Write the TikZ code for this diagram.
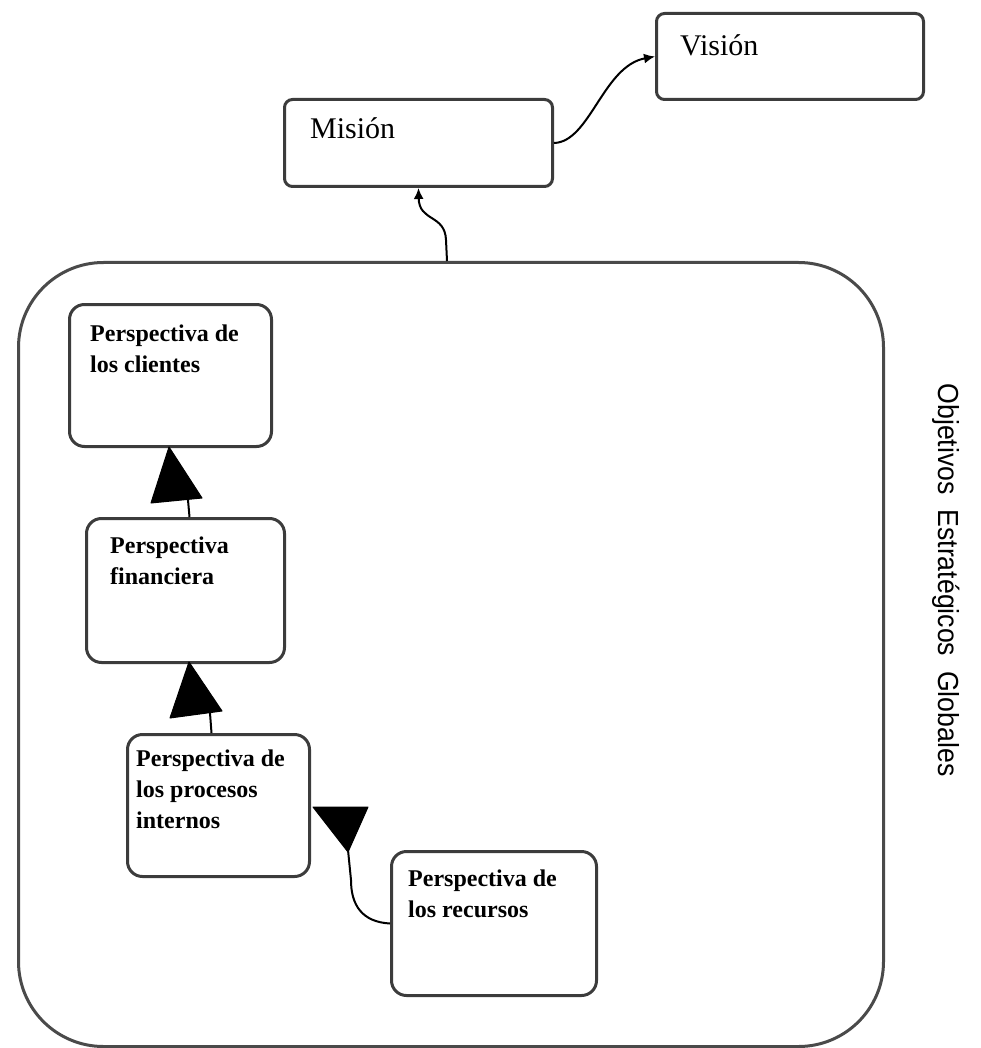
\documentclass[tikz,border=0pt]{standalone}
\usepackage{fontspec}
\setmainfont{Liberation Serif}
\newfontfamily\narrowsans[FakeStretch=0.92]{Liberation Sans}
\usetikzlibrary{arrows.meta,calc}

\definecolor{boxgray}{HTML}{3C3C3C}
\definecolor{framegray}{HTML}{4A4A4A}

\begin{document}
\begin{tikzpicture}[x=1pt,y=-1pt,
  box/.style={draw=boxgray, line width=3pt, anchor=north west, inner sep=0pt, fill=white},
  topbox/.style={box, rounded corners=8pt},
  persp/.style={box, rounded corners=15pt},
  boxtext/.style={anchor=north west, inner sep=0pt, align=left, text=black},
  smalltext/.style={boxtext, font=\fontsize{24}{31}\selectfont\bfseries},
  bigtext/.style={boxtext, font=\fontsize{30}{36}\selectfont},
  link/.style={black, line width=2pt},
  bighead/.style={fill=black, draw=black, line width=1pt, line join=round},
  smalltip/.style={-{Latex[length=11pt,width=10pt]}}
]
\useasboundingbox (0,0) rectangle (980,1048);

% outer frame of the strategic objectives
\node[box, draw=framegray, rounded corners=85pt, minimum width=865pt, minimum height=784pt, fill=none] (frame) at (17,261) {};

% mission and vision
\node[topbox, minimum width=267pt, minimum height=86pt,
  label={[bigtext, xshift=25pt, yshift=-22pt]north west:Visión}] (vision) at (655,12) {};
\node[topbox, minimum width=268pt, minimum height=87pt,
  label={[bigtext, xshift=27pt, yshift=-19pt]north west:Misión}] (mision) at (283,98) {};

% the four perspectives
\node[persp, minimum width=202pt, minimum height=142pt,
  label={[smalltext, xshift=22pt, yshift=-22pt]north west:Perspectiva de\\los clientes}] (clientes) at (68,303) {};
\node[persp, minimum width=198pt, minimum height=144pt,
  label={[smalltext, xshift=25pt, yshift=-20pt]north west:Perspectiva\\financiera}] (financiera) at (85,517) {};
\node[persp, minimum width=182pt, minimum height=142pt,
  label={[smalltext, xshift=10pt, yshift=-17pt]north west:Perspectiva de\\los procesos\\internos}] (procesos) at (126,733) {};
\node[persp, minimum width=205pt, minimum height=144pt,
  label={[smalltext, xshift=18pt, yshift=-20pt]north west:Perspectiva de\\los recursos}] (recursos) at (390,850) {};

% side caption
\node[rotate=-90, inner sep=0pt, font=\narrowsans\fontsize{29}{34}\selectfont] (caption) at (946,580)
  {Objetivos\ \ Estratégicos\ \ Globales};

% frame -> mision
\coordinate (frametop) at (447,261);
\draw[link, smalltip] (frametop) -- (446,240) .. controls (445,214) and (419,222) .. (mision.south);

% mision -> vision
\draw[link, smalltip] (mision.east) .. controls (590,142) and (603,66) .. (vision.west);

% financiera -> clientes
\coordinate (h1) at (188,500);
\draw[link] ($(financiera.north)+(4,0)$) -- (h1);
\filldraw[bighead] (169,447) -- (151,503) -- (202,498) -- cycle;

% procesos -> financiera
\coordinate (h2) at (210,713);
\draw[link] ($(procesos.north)+(-7,0)$) -- (h2);
\filldraw[bighead] (189,662) -- (170,718) -- (222,711) -- cycle;

% recursos -> procesos
\coordinate (h3) at (348,850);
\draw[link] (recursos.west) .. controls (362,922) and (351,905) .. (351,880) -- (h3);
\filldraw[bighead] (313,807) -- (368,807) -- (348,852) -- cycle;
\end{tikzpicture}
\end{document}
